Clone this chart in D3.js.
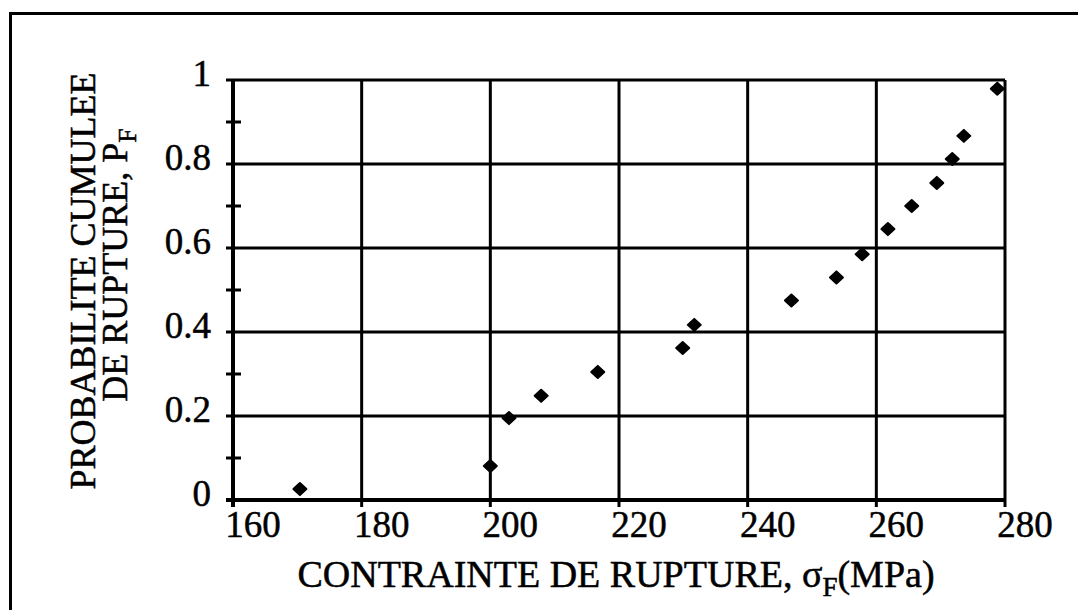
<!DOCTYPE html>
<html>
<head>
<meta charset="utf-8">
<script src="https://cdn.jsdelivr.net/npm/d3@7"></script>
<style>
  body { margin: 0; background: #fff; }
  svg { display: block; }
  text { stroke: #000; stroke-width: 0.5px; }
</style>
</head>
<body>
<script>
// data
const stress = [170.4, 200.0, 202.9, 207.9, 216.7, 229.9, 231.7, 246.8, 253.8, 257.8, 261.8, 265.5, 269.4, 271.8, 273.6, 278.8]
const probability = [0.026, 0.081, 0.195, 0.248, 0.305, 0.362, 0.417, 0.475, 0.530, 0.585, 0.645, 0.700, 0.755, 0.812, 0.867, 0.979]
const xTicks = [160, 180, 200, 220, 240, 260, 280]
const yTicks = [0, 0.2, 0.4, 0.6, 0.8, 1]
const yMinorTicks = [0.1, 0.3, 0.5, 0.7, 0.9]

const W = 1078, H = 610
const plotL = 233, plotR = 1005, plotT = 80, plotB = 500
const serif = 'Liberation Serif, Times New Roman, DejaVu Serif, serif'

const svg = d3.select('body').append('svg')
  .attr('width', W)
  .attr('height', H)
  .attr('font-family', serif)

// outer frame (only left and top edges show)
svg.append('path')
  .attr('d', `M10.5,${H} V13.5 H${W}`)
  .attr('fill', 'none')
  .attr('stroke', '#000')
  .attr('stroke-width', 3)

const x = d3.scaleLinear().domain([160, 280]).range([plotL, plotR])
const y = d3.scaleLinear().domain([0, 1]).range([plotB, plotT])

// grid
svg.append('g').selectAll('line')
  .data(xTicks)
  .join('line')
  .attr('x1', d => x(d)).attr('x2', d => x(d))
  .attr('y1', plotT).attr('y2', plotB + 7)
  .attr('stroke', '#000')
  .attr('stroke-width', 3)

svg.append('g').selectAll('line')
  .data(yTicks)
  .join('line')
  .attr('x1', plotL - 7).attr('x2', plotR)
  .attr('y1', d => y(d)).attr('y2', d => y(d))
  .attr('stroke', '#000')
  .attr('stroke-width', 3)

// minor ticks on y axis
svg.append('g').selectAll('line')
  .data(yMinorTicks)
  .join('line')
  .attr('x1', plotL - 7).attr('x2', plotL + 8)
  .attr('y1', d => y(d)).attr('y2', d => y(d))
  .attr('stroke', '#000')
  .attr('stroke-width', 3)

// axis lines a bit heavier
svg.append('line')
  .attr('x1', plotL).attr('x2', plotL)
  .attr('y1', plotT - 1).attr('y2', plotB + 7)
  .attr('stroke', '#000').attr('stroke-width', 4)
svg.append('line')
  .attr('x1', plotL - 7).attr('x2', plotR + 1)
  .attr('y1', plotB).attr('y2', plotB)
  .attr('stroke', '#000').attr('stroke-width', 4)

// tick labels
svg.append('g').selectAll('text')
  .data(xTicks)
  .join('text')
  .attr('x', d => x(d) + 20)
  .attr('y', plotB + 37)
  .attr('text-anchor', 'middle')
  .attr('font-size', 37)
  .text(d => d)

svg.append('g').selectAll('text')
  .data(yTicks)
  .join('text')
  .attr('x', plotL - 22)
  .attr('y', d => y(d) + 6)
  .attr('text-anchor', 'end')
  .attr('font-size', 37)
  .text(d => d)

// axis titles
const xt = svg.append('text')
  .attr('x', 616)
  .attr('y', 587)
  .attr('text-anchor', 'middle')
  .attr('font-size', 38)
xt.append('tspan').text('CONTRAINTE DE RUPTURE, σ')
xt.append('tspan').attr('font-size', 27).attr('dy', 9).text('F')
xt.append('tspan').attr('dy', -9).text('(MPa)')

const yt = svg.append('g').attr('transform', 'translate(95,281) rotate(-90)')
yt.append('text')
  .attr('text-anchor', 'middle')
  .attr('font-size', 36)
  .text('PROBABILITE CUMULEE')
const yt2 = yt.append('text')
  .attr('x', 16)
  .attr('y', 32)
  .attr('text-anchor', 'middle')
  .attr('font-size', 36)
yt2.append('tspan').text('DE RUPTURE, P')
yt2.append('tspan').attr('font-size', 26).attr('dy', 9).text('F')

// markers
const diamond = 'M0,-6 L6.5,0 L0,6 L-6.5,0 Z'
svg.append('g').selectAll('path')
  .data(stress.map((s, i) => [s, probability[i]]))
  .join('path')
  .attr('d', diamond)
  .attr('transform', d => `translate(${x(d[0])},${y(d[1])})`)
  .attr('fill', '#000')
  .attr('stroke', '#000')
  .attr('stroke-width', 2)
  .attr('stroke-linejoin', 'round')
</script>
</body>
</html>
